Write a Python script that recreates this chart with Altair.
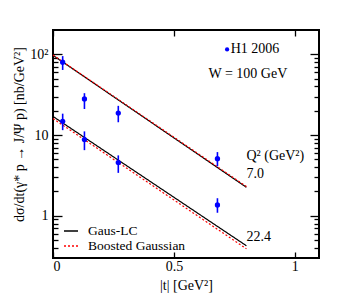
import altair as alt
import pandas as pd

FONT = "Liberation Serif"

# measured points (|t|, dsigma/dt) with error bounds
t_pts = [0.04, 0.13, 0.27, 0.68]
q7_val = [80, 28, 18.7, 5.1]
q7_lo = [64, 21, 14.4, 4.1]
q7_hi = [95, 33, 23, 6.15]
q22_val = [14.8, 8.8, 4.56, 1.36]
q22_lo = [11.5, 6.5, 3.4, 1.09]
q22_hi = [18.4, 11.1, 5.6, 1.65]

# model curves (straight on log scale)
t_line = [0.0, 0.8]
gaus_q7 = [97, 2.25]
boost_q7 = [98, 2.3]
gaus_q22 = [17, 0.425]
boost_q22 = [16, 0.39]
models = ["Gaus-LC", "Boosted Gaussian"]

y_major = [1, 10, 100]
y_minor = [0.4, 0.5, 0.6, 0.7, 0.8, 0.9, 2, 3, 4, 5, 6, 7, 8, 9,
           20, 30, 40, 50, 60, 70, 80, 90]
x_major = [0, 0.5, 1]

pts = pd.DataFrame({
    "t": t_pts * 2,
    "v": q7_val + q22_val,
    "lo": q7_lo + q22_lo,
    "hi": q7_hi + q22_hi,
})

rows = []
for q, g, b in (("7.0", gaus_q7, boost_q7), ("22.4", gaus_q22, boost_q22)):
    for i, t in enumerate(t_line):
        rows.append({"t": t, "v": g[i], "model": models[0], "q2": q})
        rows.append({"t": t, "v": b[i], "model": models[1], "q2": q})
lines = pd.DataFrame(rows)

texts_left = pd.DataFrame({
    "t": [0.735, 0.80, 0.80, 0.80],
    "v": [115, 5.45, 3.27, 0.552],
    "label": ["H1 2006", "Q² (GeV²)", "7.0", "22.4"],
})
texts_center = pd.DataFrame({"t": [0.806], "v": [56.9], "label": ["W = 100 GeV"]})
dot = pd.DataFrame({"t": [0.72], "v": [115]})

xs = alt.Scale(domain=[0, 1.1], nice=False, zero=False)
ys = alt.Scale(type="log", domain=[0.3, 200], nice=False)


def axis_layer(xaxis, yaxis):
    return alt.Chart(pts).mark_point(opacity=0).encode(
        x=alt.X("t:Q", scale=xs, axis=xaxis),
        y=alt.Y("v:Q", scale=ys, axis=yaxis),
    )


ax_a = axis_layer(
    alt.Axis(orient="bottom", values=x_major, offset=-6, tickSize=6, labelPadding=1,
             title="|t| [GeV²]", titlePadding=5, format="~g"),
    alt.Axis(orient="left", values=y_major, offset=-9, tickSize=9, labelPadding=5,
             labelExpr="datum.value == 100 ? '10²' : datum.value == 10 ? '10' : '1'",
             title="dσ/dt(γ* p → J/Ψ p) [nb/GeV²]", titlePadding=3, titleY=104,
             titleFont="Liberation Serif, DejaVu Serif"),
)
ax_b = axis_layer(
    alt.Axis(orient="top", values=x_major, offset=-6, tickSize=6, labels=False, title=""),
    alt.Axis(orient="left", values=y_minor, offset=-5, tickSize=5, labels=False, title=""),
)
ax_c = axis_layer(
    None,
    alt.Axis(orient="right", values=y_major, offset=-9, tickSize=9, labels=False, title=""),
)
ax_d = axis_layer(
    None,
    alt.Axis(orient="right", values=y_minor, offset=-5, tickSize=5, labels=False, title=""),
)

line_layer = alt.Chart(lines).mark_line(strokeWidth=1.2).encode(
    x=alt.X("t:Q", scale=xs, axis=None),
    y=alt.Y("v:Q", scale=ys, axis=None),
    color=alt.Color("model:N", scale=alt.Scale(domain=models, range=["black", "#ff0000"]),
                    title=None,
                    legend=alt.Legend(orient="none", legendX=10, legendY=193,
                                      symbolType="stroke", symbolSize=196,
                                      symbolStrokeWidth=1.3, labelFont=FONT,
                                      labelFontSize=13.5, labelOffset=9, rowPadding=0,
                                      labelColor="black")),
    strokeDash=alt.StrokeDash("model:N", scale=alt.Scale(domain=models, range=[[1, 0], [2, 2]]),
                              title=None),
    detail="q2:N",
)

err_layer = alt.Chart(pts).mark_rule(color="#0000ff", strokeWidth=1.6).encode(
    x=alt.X("t:Q", scale=xs, axis=None),
    y=alt.Y("lo:Q", scale=ys, axis=None),
    y2="hi:Q",
)
pt_layer = alt.Chart(pts).mark_circle(color="#0000ff", size=28, opacity=1).encode(
    x=alt.X("t:Q", scale=xs, axis=None),
    y=alt.Y("v:Q", scale=ys, axis=None),
)
dot_layer = alt.Chart(dot).mark_circle(color="#0000ff", size=18, opacity=1).encode(
    x=alt.X("t:Q", scale=xs, axis=None),
    y=alt.Y("v:Q", scale=ys, axis=None),
)
txt_l = alt.Chart(texts_left).mark_text(align="left", baseline="middle", font=FONT,
                                        fontSize=14, color="black").encode(
    x=alt.X("t:Q", scale=xs, axis=None),
    y=alt.Y("v:Q", scale=ys, axis=None),
    text="label:N",
)
txt_c = alt.Chart(texts_center).mark_text(align="center", baseline="middle", font=FONT,
                                          fontSize=14, color="black").encode(
    x=alt.X("t:Q", scale=xs, axis=None),
    y=alt.Y("v:Q", scale=ys, axis=None),
    text="label:N",
)

chart = alt.layer(
    ax_a, ax_b, ax_c, ax_d, line_layer, err_layer, pt_layer, dot_layer, txt_l, txt_c
).resolve_axis(x="independent", y="independent").properties(
    width=266, height=228,
    autosize=alt.AutoSizeParams(type="none"),
    padding={"left": 45, "top": 22, "right": 20, "bottom": 40},
    background="white",
).configure_view(
    stroke="black", strokeWidth=2
).configure_axis(
    labelFont=FONT, titleFont=FONT, labelFontSize=14, titleFontSize=14,
    titleFontWeight="normal", labelColor="black", titleColor="black",
    tickColor="black", tickWidth=1.3, grid=False, domain=False,
)

chart.save("out.html", embed_options={"renderer": "svg", "actions": False})
